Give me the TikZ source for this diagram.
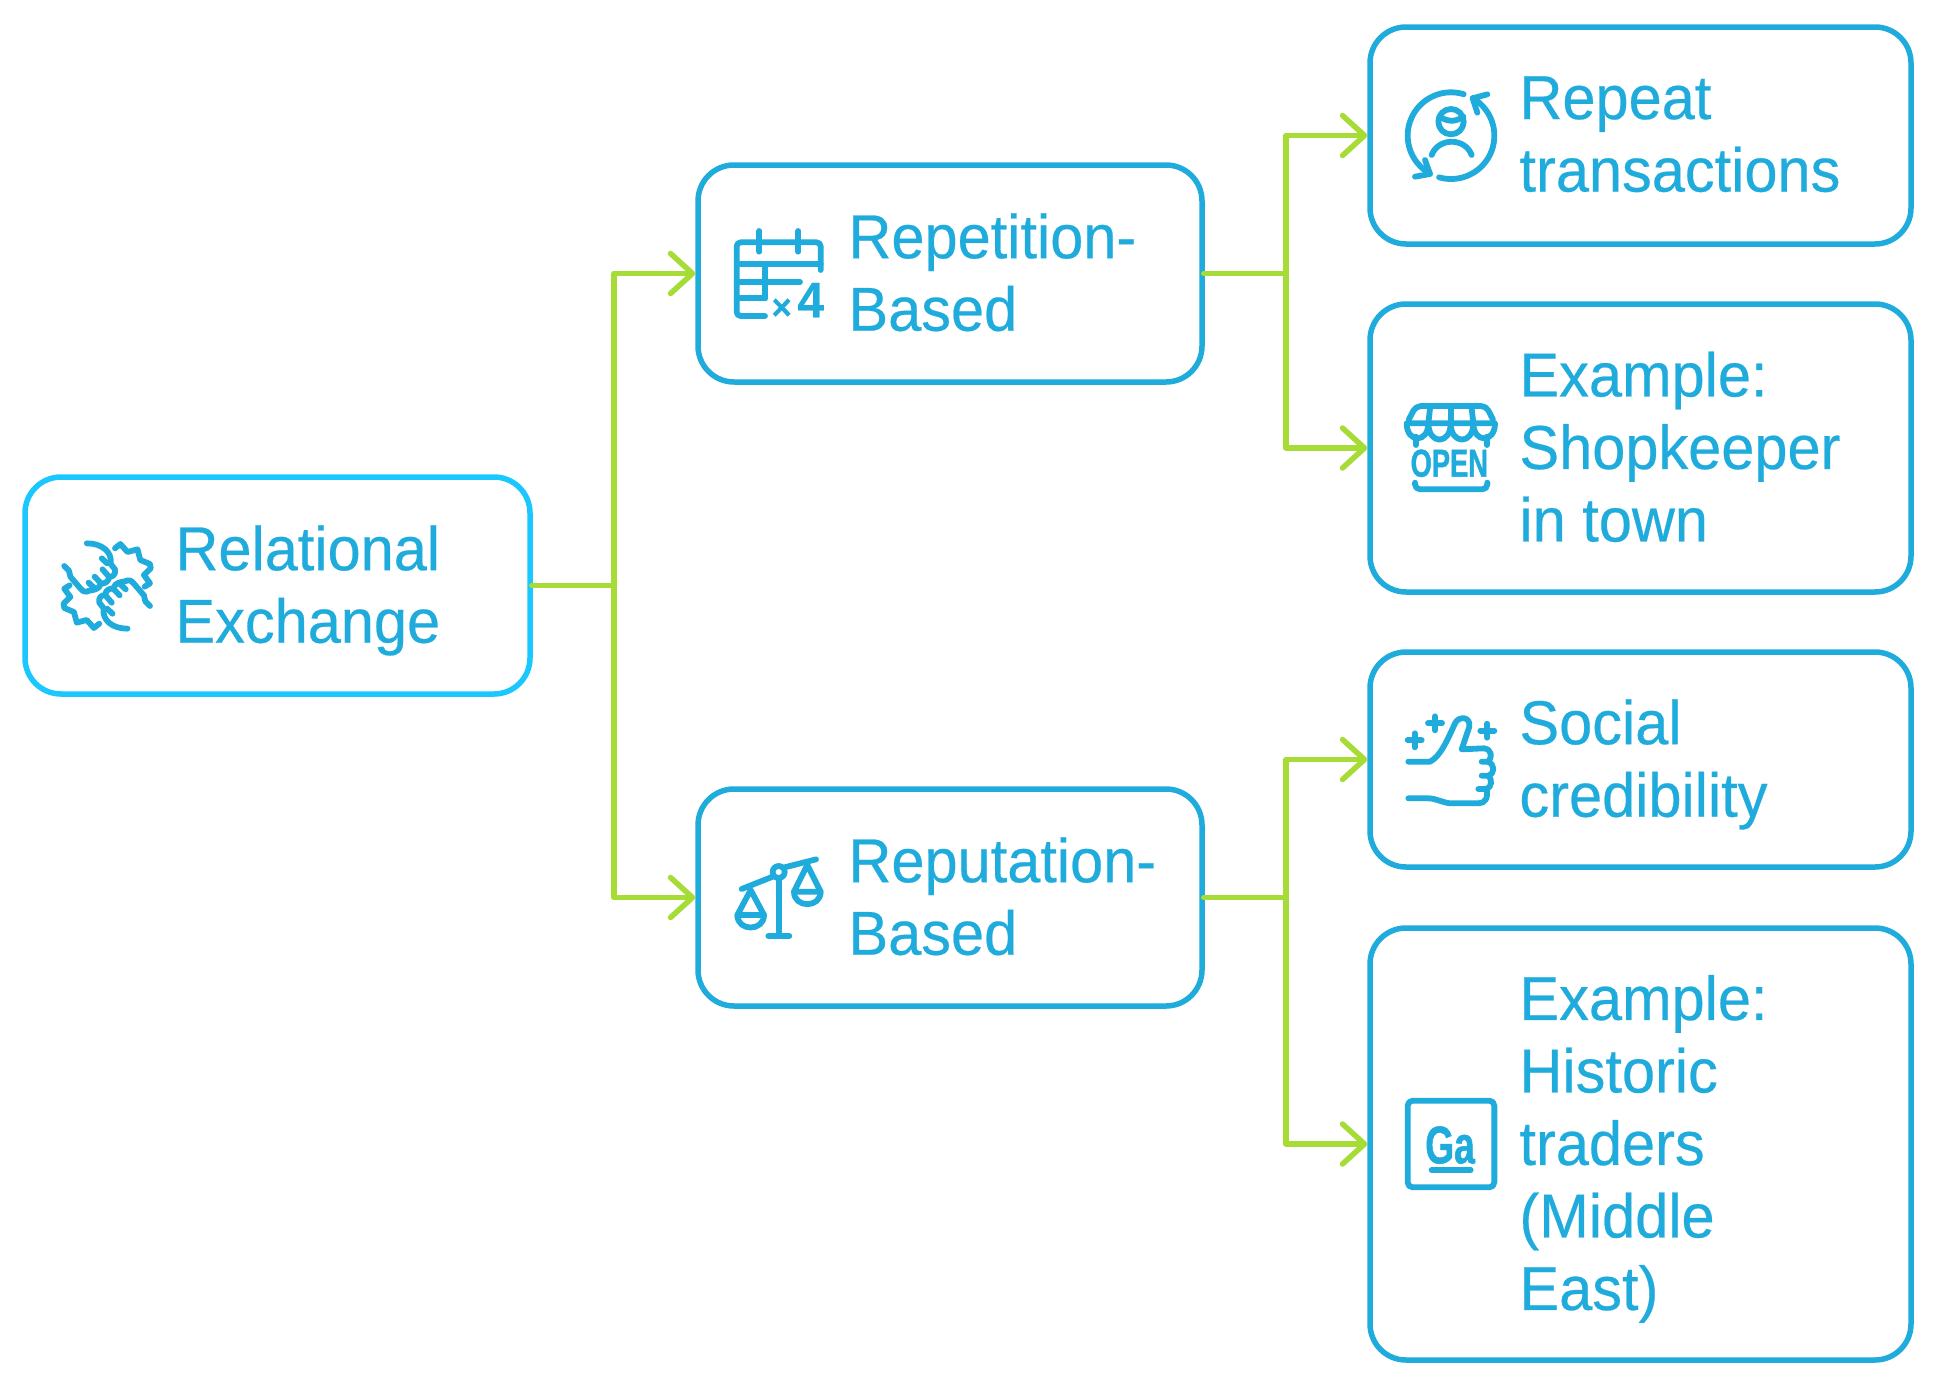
\documentclass[tikz,border=0pt]{standalone}
\usepackage{fontspec}
\setmainfont{Liberation Sans}
\newfontfamily\labelfont[FakeStretch=0.96,FakeBold=0.4]{Liberation Sans}
\newfontfamily\glyphfont[FakeStretch=0.7,FakeBold=1]{Liberation Sans}
\usetikzlibrary{positioning,arrows.meta}
\definecolor{blockblue}{HTML}{1FACDC}
\definecolor{rootblue}{HTML}{1AC8FF}
\definecolor{linkgreen}{HTML}{A6DC35}
\tikzset{
  block/.style={draw=blockblue, line width=5.5pt, rounded corners=36pt, inner sep=0pt, fill=white},
  blocktext/.style={text=blockblue, inner sep=0pt, align=left, yshift=-5pt,
    font=\labelfont\fontsize{62}{72.5}\selectfont,
    execute at begin node={\rule{0pt}{.73em}},
    execute at end node={\rule[-.21em]{0pt}{.21em}}},
  link/.style={draw=linkgreen, line width=5.5pt, line cap=round, line join=round},
  linkto/.style={link, -{Straight Barb[length=22pt,width=40pt,round]}},
  icon/.style={draw=blockblue, line width=5.8pt, line cap=round, line join=round},
  glyph/.style={text=blockblue, inner sep=0pt, font=\glyphfont\bfseries},
}
\begin{document}
\begin{tikzpicture}[x=1pt,y=-1pt]
  \useasboundingbox (0,0) rectangle (1943,1384);

  \node[block, draw=rootblue, minimum width=505pt, minimum height=217pt] (relational) at (277.5,585.5) {};
  \node[block, minimum width=504pt, minimum height=217pt] (repetition) at (950,273.5) {};
  \node[block, minimum width=504pt, minimum height=217pt] (reputation) at (950,897.5) {};
  \node[block, minimum width=541pt, minimum height=217pt] (repeat) at (1640.5,135.5) {};
  \node[block, minimum width=541pt, minimum height=288pt] (shop) at (1640.5,448) {};
  \node[block, minimum width=541pt, minimum height=215pt] (social) at (1640.5,759.5) {};
  \node[block, minimum width=541pt, minimum height=432pt] (historic) at (1640.5,1144) {};

  \node[blocktext, right=153pt of relational.west] (relationaltext) {Relational\\Exchange};
  \node[blocktext, right=153pt of repetition.west] (repetitiontext) {Repetition-\\Based};
  \node[blocktext, right=153pt of reputation.west] (reputationtext) {Reputation-\\Based};
  \node[blocktext, right=152pt of repeat.west] (repeattext) {Repeat\\transactions};
  \node[blocktext, right=152pt of shop.west] (shoptext) {Example:\\Shopkeeper\\in town};
  \node[blocktext, right=152pt of social.west] (socialtext) {Social\\credibility};
  \node[blocktext, right=152pt of historic.west] (historictext) {Example:\\Historic\\traders\\(Middle\\East)};

  \coordinate (busroot) at (614,585.5);
  \coordinate (busrepetition) at (1286,273.5);
  \coordinate (busreputation) at (1286,897.5);

  \draw[link, shorten <=-1pt] (relational.east) -- (busroot);
  \draw[linkto] (busroot) |- (repetition.west);
  \draw[linkto] (busroot) |- (reputation.west);
  \draw[link, shorten <=-1pt] (repetition.east) -- (busrepetition);
  \draw[linkto] (busrepetition) |- (repeat.west);
  \draw[linkto] (busrepetition) |- (shop.west);
  \draw[link, shorten <=-1pt] (reputation.east) -- (busreputation);
  \draw[linkto] (busreputation) |- (social.west);
  \draw[linkto] (busreputation) |- (historic.west);

  % handshake
  \begin{scope}[shift={(0,460)},xscale=1/2.8,yscale=1/3]
    \foreach \turn in {0,180} {
      \begin{scope}[rotate around={\turn:(300,378)}]
        \draw[icon] (243,250) .. controls (285,250) and (315,275) .. (310,312) -- (322,328) .. controls (325,345) and (315,350) .. (305,352) .. controls (305,368) and (290,370) .. (282,372) .. controls (278,388) and (262,390) .. (250,392) .. controls (240,398) and (232,395) .. (225,385) -- (197,350) -- (193,332) -- (180,318);
        \draw[icon] (248,368) -- (265,385);
        \draw[icon] (265,350) -- (283,370);
        \draw[icon] (287,328) -- (305,350);
        \draw[icon] (285,295) -- (300,310);
        \draw[icon] (322,265) -- (337,252) -- (357,276) -- (385,268) -- (393,300) -- (420,312) -- (422,325) -- (403,345) -- (420,370) -- (405,380);
      \end{scope}
    }
  \end{scope}

  % calendar
  \begin{scope}[shift={(700,160)},scale=1/3]
    \draw[icon, rounded corners=4pt] (362,330) -- (362,247) -- (110,247) -- (110,468) -- (195,468);
    \draw[icon] (110,313) -- (362,313);
    \draw[icon] (110,366) -- (300,366);
    \draw[icon] (110,415) -- (195,415);
    \draw[icon] (195,313) -- (195,415);
    \draw[icon] (178,213) -- (178,275);
    \draw[icon] (295,213) -- (295,275);
    \node[glyph, font=\labelfont\bfseries\fontsize{36}{36}\selectfont] (timesmark) at (245,447) {×};
    \node[glyph, font=\labelfont\bfseries\fontsize{50}{50}\selectfont, anchor=base east] (fourmark) at (373,472) {4};
  \end{scope}

  % balance
  \begin{scope}[shift={(700,790)},scale=1/3]
    \draw[icon] (125,297) -- (218,260);
    \draw[icon] (254,232) -- (348,208);
    \draw[icon] (236,246) circle (18);
    \draw[icon] (236,265) -- (236,438);
    \draw[icon] (205,438) -- (268,438);
    \draw[icon] (152,300) -- (112,375) -- (192,375) -- cycle;
    \draw[icon] (112,375) .. controls (112,425) and (192,425) .. (192,375);
    \draw[icon] (322,225) -- (282,305) -- (362,305) -- cycle;
    \draw[icon] (282,305) .. controls (282,355) and (362,355) .. (362,305);
  \end{scope}

  % returning customer
  \begin{scope}[shift={(1380,60)},scale=1/3]
    \draw[icon] plot[domain=-73:-241, samples=60] ({213+130*cos(\x)},{227+130*sin(\x)});
    \draw[icon] plot[domain=106:-60, samples=60] ({213+130*cos(\x)},{227+130*sin(\x)});
    \draw[icon] (135,300) -- (150,342) -- (105,350);
    \draw[icon] (322,103) -- (278,115) -- (292,158);
    \draw[icon] (213,185) circle (38);
    \draw[icon] (182,172) .. controls (205,185) and (225,187) .. (250,170);
    \draw[icon] (155,285) .. controls (175,232) and (255,232) .. (275,285);
  \end{scope}

  % storefront
  \begin{scope}[shift={(1380,380)},scale=1/3]
    \draw[icon, rounded corners=5pt] (80,130) -- (108,78) -- (318,78) -- (345,130) -- cycle;
    \draw[icon] (150,85) -- (145,130);
    \draw[icon] (212,80) -- (212,130);
    \draw[icon] (275,85) -- (280,130);
    \draw[icon] (80,130) .. controls (80,190) and (145,190) .. (145,130);
    \draw[icon] (145,130) .. controls (145,195) and (212,195) .. (212,130);
    \draw[icon] (212,130) .. controls (212,195) and (280,195) .. (280,130);
    \draw[icon] (280,130) .. controls (280,190) and (345,190) .. (345,130);
    \draw[icon] (107,170) -- (107,195);
    \draw[icon] (320,170) -- (320,195);
    \node[glyph, font=\glyphfont\bfseries\fontsize{39}{39}\selectfont, anchor=base] (opensign) at (208,290) {OPEN};
    \draw[icon, rounded corners=5pt] (105,308) -- (105,328) -- (322,328) -- (322,308);
  \end{scope}

  % thumb up
  \begin{scope}[shift={(1380,690)},scale=1/3]
    \draw[icon] (85,215) -- (150,215) .. controls (180,200) and (200,155) .. (225,100) .. controls (235,78) and (272,78) .. (268,110) -- (245,178) -- (312,175) .. controls (335,178) and (338,200) .. (325,215) -- (305,215);
    \draw[icon] (325,215) .. controls (345,225) and (345,250) .. (325,257) -- (305,257);
    \draw[icon] (325,257) .. controls (338,270) and (335,290) .. (320,297) -- (295,297);
    \draw[icon] (320,297) .. controls (325,325) and (315,340) .. (295,340) -- (215,340) .. controls (190,340) and (170,325) .. (145,325) -- (85,325);
    \foreach \px/\py in {104/151,165/100,322/122} {
      \draw[icon] (\px-21,\py) -- (\px+21,\py);
      \draw[icon] (\px,\py-21) -- (\px,\py+21);
    }
  \end{scope}

  % language tile
  \begin{scope}[shift={(1380,1080)},scale=1/3]
    \draw[icon, rounded corners=5pt] (83,62) rectangle (343,322);
    \node[glyph, font=\glyphfont\bfseries\fontsize{53}{53}\selectfont, anchor=base] (gatile) at (210,250) {Ga};
    \draw[icon] (155,270) -- (272,270);
  \end{scope}
\end{tikzpicture}
\end{document}
